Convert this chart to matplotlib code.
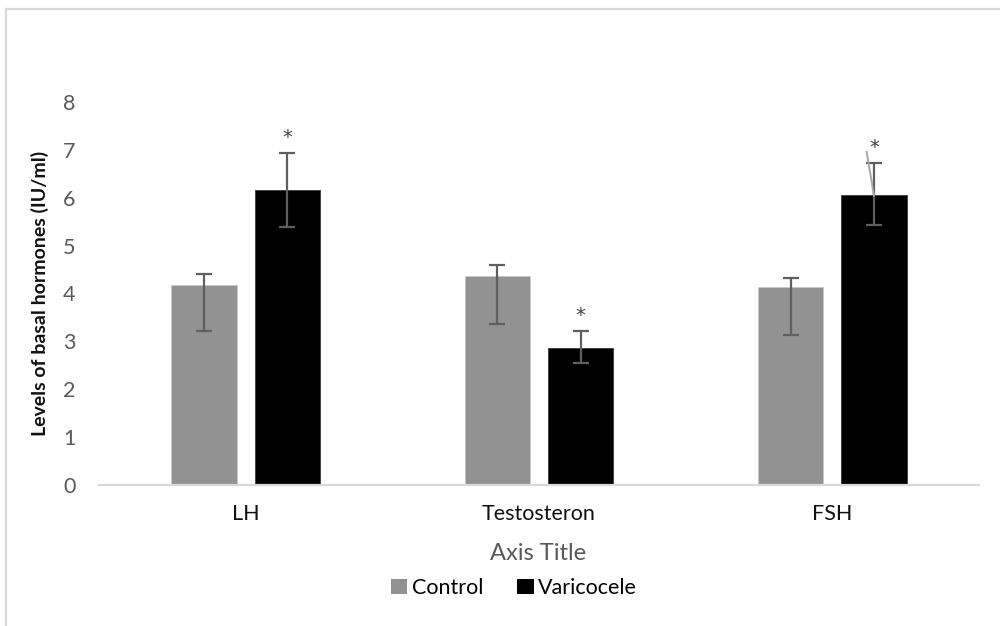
import numpy as np
import matplotlib.pyplot as plt
from matplotlib.lines import Line2D
from matplotlib.patches import Patch

plt.rcParams['font.family'] = ['Lato', 'DejaVu Sans']

# data
categories = ['LH', 'Testosteron', 'FSH']
series = ['Control', 'Varicocele']
control = [4.18, 4.36, 4.13]
control_up = [0.23, 0.23, 0.19]
control_down = [0.97, 0.99, 0.99]
varico = [6.16, 2.87, 6.06]
varico_up = [0.77, 0.34, 0.66]
varico_down = [0.77, 0.32, 0.64]
stars = [True, True, True]
# stray line next to the FSH star (y values)
stray_y = [6.96, 6.04]

bar_colors = ['#929292', '#000000']
err_color = '#5f5f5f'

fig = plt.figure(figsize=(10, 6.26), dpi=100)
ax = fig.add_axes([0.099, 0.2252, 0.88, 0.612])

x = np.arange(len(categories))
w = 0.222
off = 0.142

ax.bar(x - off, control, w, color=bar_colors[0], edgecolor='#c8c8c8', linewidth=0.6, zorder=2)
ax.bar(x + off, varico, w, color=bar_colors[1], edgecolor='#3a3a3a', linewidth=0.6, zorder=2)
ax.errorbar(x - off, control, yerr=[control_down, control_up], fmt='none',
            ecolor=err_color, elinewidth=1.6, capsize=6, capthick=1.6, zorder=3)
ax.errorbar(x + off, varico, yerr=[varico_down, varico_up], fmt='none',
            ecolor=err_color, elinewidth=1.6, capsize=6, capthick=1.6, zorder=3)

# significance stars
for i, s in enumerate(stars):
    if s:
        ax.text(x[i] + off, varico[i] + varico_up[i] + 0.33, '*', ha='center', va='center',
                fontsize=14, color='#404040', family='DejaVu Sans')

# stray line near FSH marker
ax.plot([x[2] + off - 0.025, x[2] + off], stray_y, color='#a8a8a8', lw=1.4, zorder=4)

ax.set_xlim(-0.5, len(categories) - 0.5)
ax.set_ylim(0, 8)
ax.set_yticks(range(0, 9))
ax.set_xticks(x)
ax.set_xticklabels(categories, fontsize=15.5, color='#111111')
ax.tick_params(axis='y', length=0, pad=17, labelsize=15.5, labelcolor='#595959')
ax.tick_params(axis='x', length=0, pad=14)
for sp in ['top', 'right', 'left']:
    ax.spines[sp].set_visible(False)
ax.spines['bottom'].set_color('#d9d9d9')
ax.spines['bottom'].set_linewidth(1.6)

ax.set_ylabel('Levels of basal hormones (IU/ml)', fontsize=14, fontweight='bold',
              color='#111111', labelpad=10)
fig.text(0.538, 1 - 553 / 626, 'Axis Title', ha='center', va='center', fontsize=17, color='#595959')

handles = [Patch(facecolor=bar_colors[0]), Patch(facecolor=bar_colors[1])]
fig.legend(handles, series, loc='center', bbox_to_anchor=(0.514, 1 - 588 / 626), ncol=2,
           frameon=False, fontsize=15.5, handlelength=0.75, handleheight=0.75,
           handletextpad=0.2, columnspacing=1.6)

# chart frame
fig.add_artist(Line2D([0.0055, 0.0055], [0, 1 - 9 / 626], color='#d9d9d9', lw=1.6))
fig.add_artist(Line2D([0.0055, 1], [1 - 9 / 626, 1 - 9 / 626], color='#d9d9d9', lw=1.6))

fig.savefig('out.png', dpi=100, facecolor='white')
